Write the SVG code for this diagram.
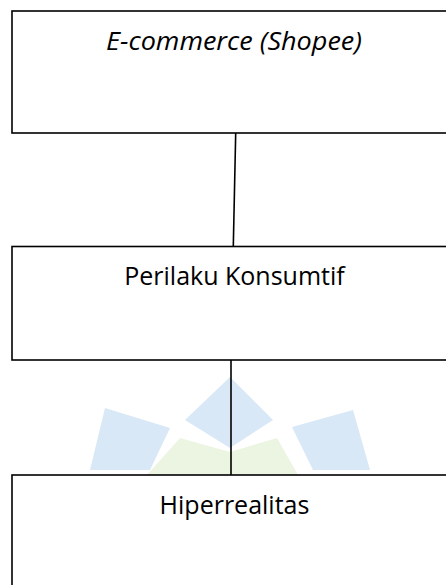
<svg xmlns="http://www.w3.org/2000/svg" width="446" height="585" viewBox="0 0 446 585">
<style>
.box{fill:none;stroke:#000;stroke-width:1.6}
.lbl{font-family:"Open Sans","Liberation Sans",sans-serif;font-size:25px;fill:#000;text-anchor:middle}
.conn{stroke:#000;stroke-width:1.6;fill:none}
.wb{fill:#d8e8f6}
.wg{fill:#ecf4e2}
</style>
<rect width="446" height="585" fill="#fff"/>
<g id="watermark">
<polygon class="wb" points="105,408 170,428 150,470 90,470"/>
<polygon class="wb" points="230,377 273,420 230,448 185,420"/>
<polygon class="wb" points="292,427 353,410 370,470 313,470"/>
<polygon class="wg" points="180,438 230,452 230,475 147,475"/>
<polygon class="wg" points="230,452 277,438 298,475 230,475"/>
</g>
<g id="connectors">
<line class="conn" x1="235.7" y1="133" x2="233.3" y2="246.5"/>
<line class="conn" x1="231" y1="360" x2="231" y2="475"/>
</g>
<g id="node-ecommerce">
<rect class="box" x="12" y="11" width="440" height="122"/>
<text class="lbl" x="234" y="50" font-style="italic" textLength="256" lengthAdjust="spacingAndGlyphs">E-commerce (Shopee)</text>
</g>
<g id="node-perilaku">
<rect class="box" x="12" y="246.5" width="440" height="113.5"/>
<text class="lbl" x="234.5" y="285">Perilaku Konsumtif</text>
</g>
<g id="node-hiperrealitas">
<rect class="box" x="12" y="475" width="440" height="120"/>
<text class="lbl" x="234.5" y="514">Hiperrealitas</text>
</g>
</svg>
